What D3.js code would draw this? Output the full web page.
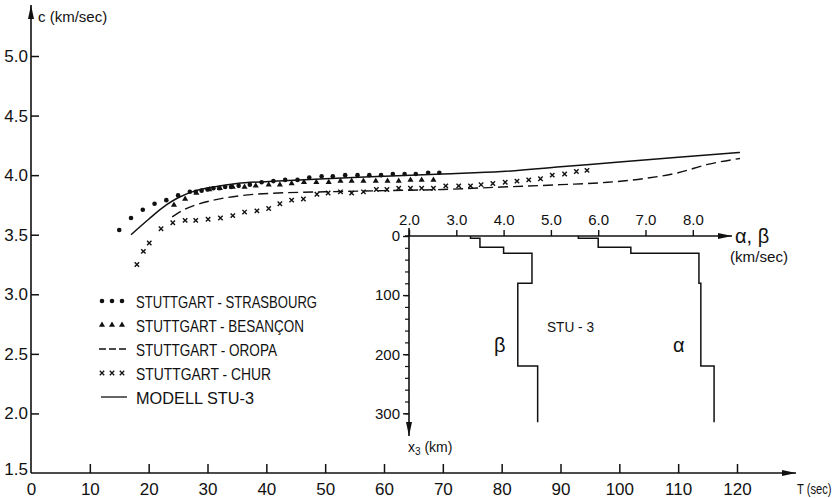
<!DOCTYPE html>
<html>
<head>
<meta charset="utf-8">
<script src="https://cdn.jsdelivr.net/npm/d3@7"></script>
<style>
  body { margin: 0; background: #fff; }
  text { font-family: "Liberation Sans", Arial, sans-serif; fill: #111; }
</style>
</head>
<body>
<div id="chart"></div>
<script>
// dispersion data: period T (sec), phase velocity c (km/sec)
var strasT = [15, 17, 19, 21, 23, 25, 27, 28, 29, 30, 31, 32, 33, 34, 35.3, 37.2, 39.2, 41.2, 43.2, 45.3,
              47.3, 49.4, 51.3, 53.4, 55.5, 57.5, 59.5, 61.5, 63.5, 65.4, 67.5, 69.4];
var strasC = [3.54, 3.64, 3.71, 3.76, 3.79, 3.83, 3.86, 3.86, 3.87, 3.88, 3.89, 3.89, 3.90, 3.90, 3.91, 3.92, 3.94, 3.95, 3.96, 3.96,
              3.98, 3.99, 3.99, 4.00, 4.00, 4.00, 4.00, 4.01, 4.01, 4.01, 4.02, 4.02];

var besT = [24.3, 26.2, 28.1, 30.3, 32.1, 34.3, 36.3, 38.2, 40.4, 42.3, 44.3, 46.4, 48.5, 50.6, 52.6, 54.5,
            56.5, 58.6, 60.6, 62.5, 64.5, 66.4, 68.4];
var besC = [3.75, 3.80, 3.85, 3.88, 3.89, 3.90, 3.90, 3.91, 3.92, 3.92, 3.93, 3.94, 3.94, 3.94, 3.95, 3.95,
            3.95, 3.95, 3.95, 3.95, 3.96, 3.96, 3.96];

var churT = [18.0, 19.1, 20.1, 22.1, 24.1, 26.2, 28.0, 30.1, 32.2, 34.3, 36.3, 38.4, 40.4, 42.3, 44.3, 46.3,
             48.6, 50.5, 52.6, 54.5, 56.5, 58.7, 60.5, 62.5, 64.5, 66.4, 68.4, 70.5, 72.7, 74.7, 76.5, 78.5,
             80.6, 82.6, 84.6, 86.6, 88.6, 90.7, 92.7, 94.5];
var churC = [3.25, 3.36, 3.43, 3.55, 3.60, 3.62, 3.62, 3.63, 3.64, 3.66, 3.69, 3.70, 3.72, 3.76, 3.79, 3.80,
             3.84, 3.85, 3.86, 3.85, 3.86, 3.88, 3.88, 3.89, 3.89, 3.89, 3.89, 3.91, 3.91, 3.91, 3.92, 3.93,
             3.94, 3.95, 3.96, 3.97, 4.00, 4.01, 4.03, 4.04];

var oropaT = [24, 26, 28, 31, 36, 42, 50, 60, 70, 80, 90, 98, 104, 110, 115, 120.5];
var oropaC = [3.65, 3.71, 3.75, 3.79, 3.83, 3.85, 3.86, 3.87, 3.88, 3.90, 3.92, 3.94, 3.97, 4.02, 4.09, 4.14];

var modelT = [17, 20, 23, 25, 28, 31, 35, 42, 50, 60, 70, 80, 90, 100, 110, 120.5];
var modelC = [3.50, 3.63, 3.75, 3.81, 3.87, 3.90, 3.93, 3.95, 3.97, 3.99, 4.01, 4.03, 4.07, 4.11, 4.15, 4.19];

var xTicks = [0, 10, 20, 30, 40, 50, 60, 70, 80, 90, 100, 110, 120];
var yTicks = [1.5, 2.0, 2.5, 3.0, 3.5, 4.0, 4.5, 5.0];

// STU-3 model: layer boundaries (km) and velocities (km/sec)
var layerDepth = [0, 4, 19, 29, 80, 220, 315];
var betaV = [3.3, 3.5, 4.0, 4.6, 4.3, 4.72];
var alphaV = [5.58, 6.0, 6.69, 8.13, 8.17, 8.45];
var vTicks = [2, 3, 4, 5, 6, 7, 8];
var zTicks = [0, 100, 200, 300];

var legendNames = ["STUTTGART - STRASBOURG", "STUTTGART - BESANÇON", "STUTTGART - OROPA",
                   "STUTTGART - CHUR", "MODELL  STU-3"];

var width = 838, height = 498;

var svg = d3.select("#chart")
    .append("svg")
    .attr("width", width)
    .attr("height", height);

var defs = svg.append("defs");
defs.append("marker")
    .attr("id", "arrowLong")
    .attr("viewBox", "0 0 14 6")
    .attr("refX", 14).attr("refY", 3)
    .attr("markerWidth", 14).attr("markerHeight", 6)
    .attr("markerUnits", "userSpaceOnUse")
    .attr("orient", "auto")
    .append("path")
    .attr("d", "M0,0L14,3L0,6Z")
    .attr("fill", "#111");

// main scales
var x = d3.scaleLinear().domain([0, 120]).range([31, 737]);
var y = d3.scaleLinear().domain([1.5, 5.0]).range([473, 56]);

// axis lines with arrows
svg.append("line")
    .attr("x1", x(0)).attr("y1", y(1.5))
    .attr("x2", 796).attr("y2", y(1.5))
    .attr("stroke", "#111").attr("stroke-width", 1.6)
    .attr("marker-end", "url(#arrowLong)");
svg.append("line")
    .attr("x1", x(0)).attr("y1", y(1.5))
    .attr("x2", x(0)).attr("y2", 5)
    .attr("stroke", "#111").attr("stroke-width", 1.6)
    .attr("marker-end", "url(#arrowLong)");

var xAxis = svg.append("g")
    .attr("transform", "translate(0," + y(1.5) + ")")
    .call(d3.axisBottom(x).tickValues(xTicks).tickSize(-9).tickPadding(10)
        .tickFormat(function (d) { return d; }));
xAxis.select(".domain").remove();
xAxis.selectAll("line").attr("stroke", "#111").attr("stroke-width", 1.5);
xAxis.selectAll("text").attr("font-size", 17).attr("font-family", "Liberation Sans");
xAxis.selectAll(".tick").filter(function (d) { return d === 0; }).select("line").remove();

var yAxis = svg.append("g")
    .attr("transform", "translate(" + x(0) + ",0)")
    .call(d3.axisLeft(y).tickValues(yTicks).tickSize(-8).tickPadding(3)
        .tickFormat(d3.format(".1f")));
yAxis.select(".domain").remove();
yAxis.selectAll("line").attr("stroke", "#111").attr("stroke-width", 1.5);
yAxis.selectAll("text").attr("font-size", 17).attr("font-family", "Liberation Sans");
yAxis.selectAll(".tick").filter(function (d) { return d === 1.5; }).select("line").remove();
yAxis.selectAll(".tick").filter(function (d) { return d === 1.5; }).select("text").attr("dy", "0.1em");

svg.append("text")
    .attr("x", 38).attr("y", 22)
    .attr("font-size", 15)
    .text("c (km/sec)");
// narrow label squeezed horizontally so it stays inside the page
svg.append("text")
    .attr("transform", "translate(797,494) scale(0.8,1)")
    .attr("font-size", 14)
    .text("T (sec)");

// curves
var curve = d3.line()
    .x(function (d) { return x(d[0]); })
    .y(function (d) { return y(d[1]); })
    .curve(d3.curveMonotoneX);

svg.append("path")
    .datum(d3.zip(modelT, modelC))
    .attr("d", curve)
    .attr("fill", "none").attr("stroke", "#111").attr("stroke-width", 1.5);

svg.append("path")
    .datum(d3.zip(oropaT, oropaC))
    .attr("d", curve)
    .attr("fill", "none").attr("stroke", "#111").attr("stroke-width", 1.4)
    .attr("stroke-dasharray", "10,5");

// markers
svg.append("g").selectAll("circle")
    .data(d3.zip(strasT, strasC))
    .enter().append("circle")
    .attr("cx", function (d) { return x(d[0]); })
    .attr("cy", function (d) { return y(d[1]); })
    .attr("r", 2.3)
    .attr("fill", "#111");

var tri = d3.symbol().type(d3.symbolTriangle).size(16);
svg.append("g").selectAll("path")
    .data(d3.zip(besT, besC))
    .enter().append("path")
    .attr("d", tri)
    .attr("transform", function (d) { return "translate(" + x(d[0]) + "," + y(d[1]) + ")"; })
    .attr("fill", "#111");

var crossPath = "M-2.2,-2.2L2.2,2.2M-2.2,2.2L2.2,-2.2";
svg.append("g").selectAll("path")
    .data(d3.zip(churT, churC))
    .enter().append("path")
    .attr("d", crossPath)
    .attr("transform", function (d) { return "translate(" + x(d[0]) + "," + y(d[1]) + ")"; })
    .attr("stroke", "#111").attr("stroke-width", 1.4).attr("fill", "none");

// legend
var legendY = d3.scalePoint().domain(legendNames).range([301, 397]);
var legendLen = [181, 168, 141, 135, 118];
var legend = svg.append("g");
legendNames.forEach(function (name, i) {
    var ly = legendY(name);
    var g = legend.append("g");
    if (i === 0) {
        [102, 112, 122].forEach(function (lx) {
            g.append("circle").attr("cx", lx).attr("cy", ly).attr("r", 2.3).attr("fill", "#111");
        });
    } else if (i === 1) {
        [102, 112, 122].forEach(function (lx) {
            g.append("path").attr("d", tri).attr("transform", "translate(" + lx + "," + ly + ")").attr("fill", "#111");
        });
    } else if (i === 2) {
        g.append("line").attr("x1", 99).attr("x2", 126).attr("y1", ly).attr("y2", ly)
            .attr("stroke", "#111").attr("stroke-width", 1.3).attr("stroke-dasharray", "7,3");
    } else if (i === 3) {
        [102, 112, 122].forEach(function (lx) {
            g.append("path").attr("d", crossPath).attr("transform", "translate(" + lx + "," + ly + ")")
                .attr("stroke", "#111").attr("stroke-width", 1.3);
        });
    } else {
        g.append("line").attr("x1", 101).attr("x2", 127).attr("y1", ly).attr("y2", ly)
            .attr("stroke", "#111").attr("stroke-width", 1.3);
    }
    g.append("text")
        .attr("x", 136).attr("y", ly + 6.5)
        .attr("font-size", 17)
        .attr("textLength", legendLen[i]).attr("lengthAdjust", "spacingAndGlyphs")
        .text(name);
});

// inset: STU-3 velocity-depth model
var vx = d3.scaleLinear().domain([2, 8]).range([409, 692.8]);
var vz = d3.scaleLinear().domain([0, 300]).range([236, 413.3]);

var inset = svg.append("g");
inset.append("line")
    .attr("x1", vx(2) - 4).attr("y1", vz(0))
    .attr("x2", 732).attr("y2", vz(0))
    .attr("stroke", "#111").attr("stroke-width", 1.6)
    .attr("marker-end", "url(#arrowLong)");
inset.append("line")
    .attr("x1", vx(2)).attr("y1", 228)
    .attr("x2", vx(2)).attr("y2", 436)
    .attr("stroke", "#111").attr("stroke-width", 1.6)
    .attr("marker-end", "url(#arrowLong)");

var vAxis = inset.append("g")
    .attr("transform", "translate(0," + vz(0) + ")")
    .call(d3.axisTop(vx).tickValues(vTicks).tickSize(6).tickPadding(5)
        .tickFormat(d3.format(".1f")));
vAxis.select(".domain").remove();
vAxis.selectAll("line").attr("stroke", "#111").attr("stroke-width", 1.4);
vAxis.selectAll("text").attr("font-size", 15).attr("font-family", "Liberation Sans");

var zAxis = inset.append("g")
    .attr("transform", "translate(" + vx(2) + ",0)")
    .call(d3.axisLeft(vz).tickValues(zTicks).tickSize(6).tickPadding(3));
zAxis.select(".domain").remove();
zAxis.selectAll("line").attr("stroke", "#111").attr("stroke-width", 1.4);
zAxis.selectAll("text").attr("font-size", 15).attr("font-family", "Liberation Sans");

var zMinor = inset.append("g")
    .attr("transform", "translate(" + vx(2) + ",0)")
    .call(d3.axisLeft(vz).tickValues(d3.range(20, 320, 20)).tickSize(4).tickFormat(""));
zMinor.select(".domain").remove();
zMinor.selectAll("line").attr("stroke", "#111").attr("stroke-width", 1.2);

function profile(vel) {
    var pts = [];
    vel.forEach(function (v, i) {
        pts.push([v, layerDepth[i]]);
        pts.push([v, layerDepth[i + 1]]);
    });
    return pts;
}
var profLine = d3.line()
    .x(function (d) { return vx(d[0]); })
    .y(function (d) { return vz(d[1]); });

inset.append("path")
    .datum(profile(betaV))
    .attr("d", profLine)
    .attr("fill", "none").attr("stroke", "#111").attr("stroke-width", 1.5);
inset.append("path")
    .datum(profile(alphaV))
    .attr("d", profLine)
    .attr("fill", "none").attr("stroke", "#111").attr("stroke-width", 1.5);

inset.append("text").attr("x", 494).attr("y", 352).attr("font-size", 20).text("β");
inset.append("text").attr("x", 673).attr("y", 352).attr("font-size", 20).text("α");
inset.append("text").attr("x", 547).attr("y", 332).attr("font-size", 15)
    .attr("textLength", 47).attr("lengthAdjust", "spacingAndGlyphs").text("STU - 3");
inset.append("text").attr("x", 735).attr("y", 243).attr("font-size", 20).text("α, β");
inset.append("text").attr("x", 730).attr("y", 262).attr("font-size", 14)
    .attr("textLength", 58).attr("lengthAdjust", "spacingAndGlyphs").text("(km/sec)");

var x3 = inset.append("text").attr("x", 408).attr("y", 452).attr("font-size", 14);
x3.append("tspan").text("x");
x3.append("tspan").attr("font-size", 10).attr("dy", 3).text("3");
x3.append("tspan").attr("dy", -3).text(" (km)");
</script>
</body>
</html>
